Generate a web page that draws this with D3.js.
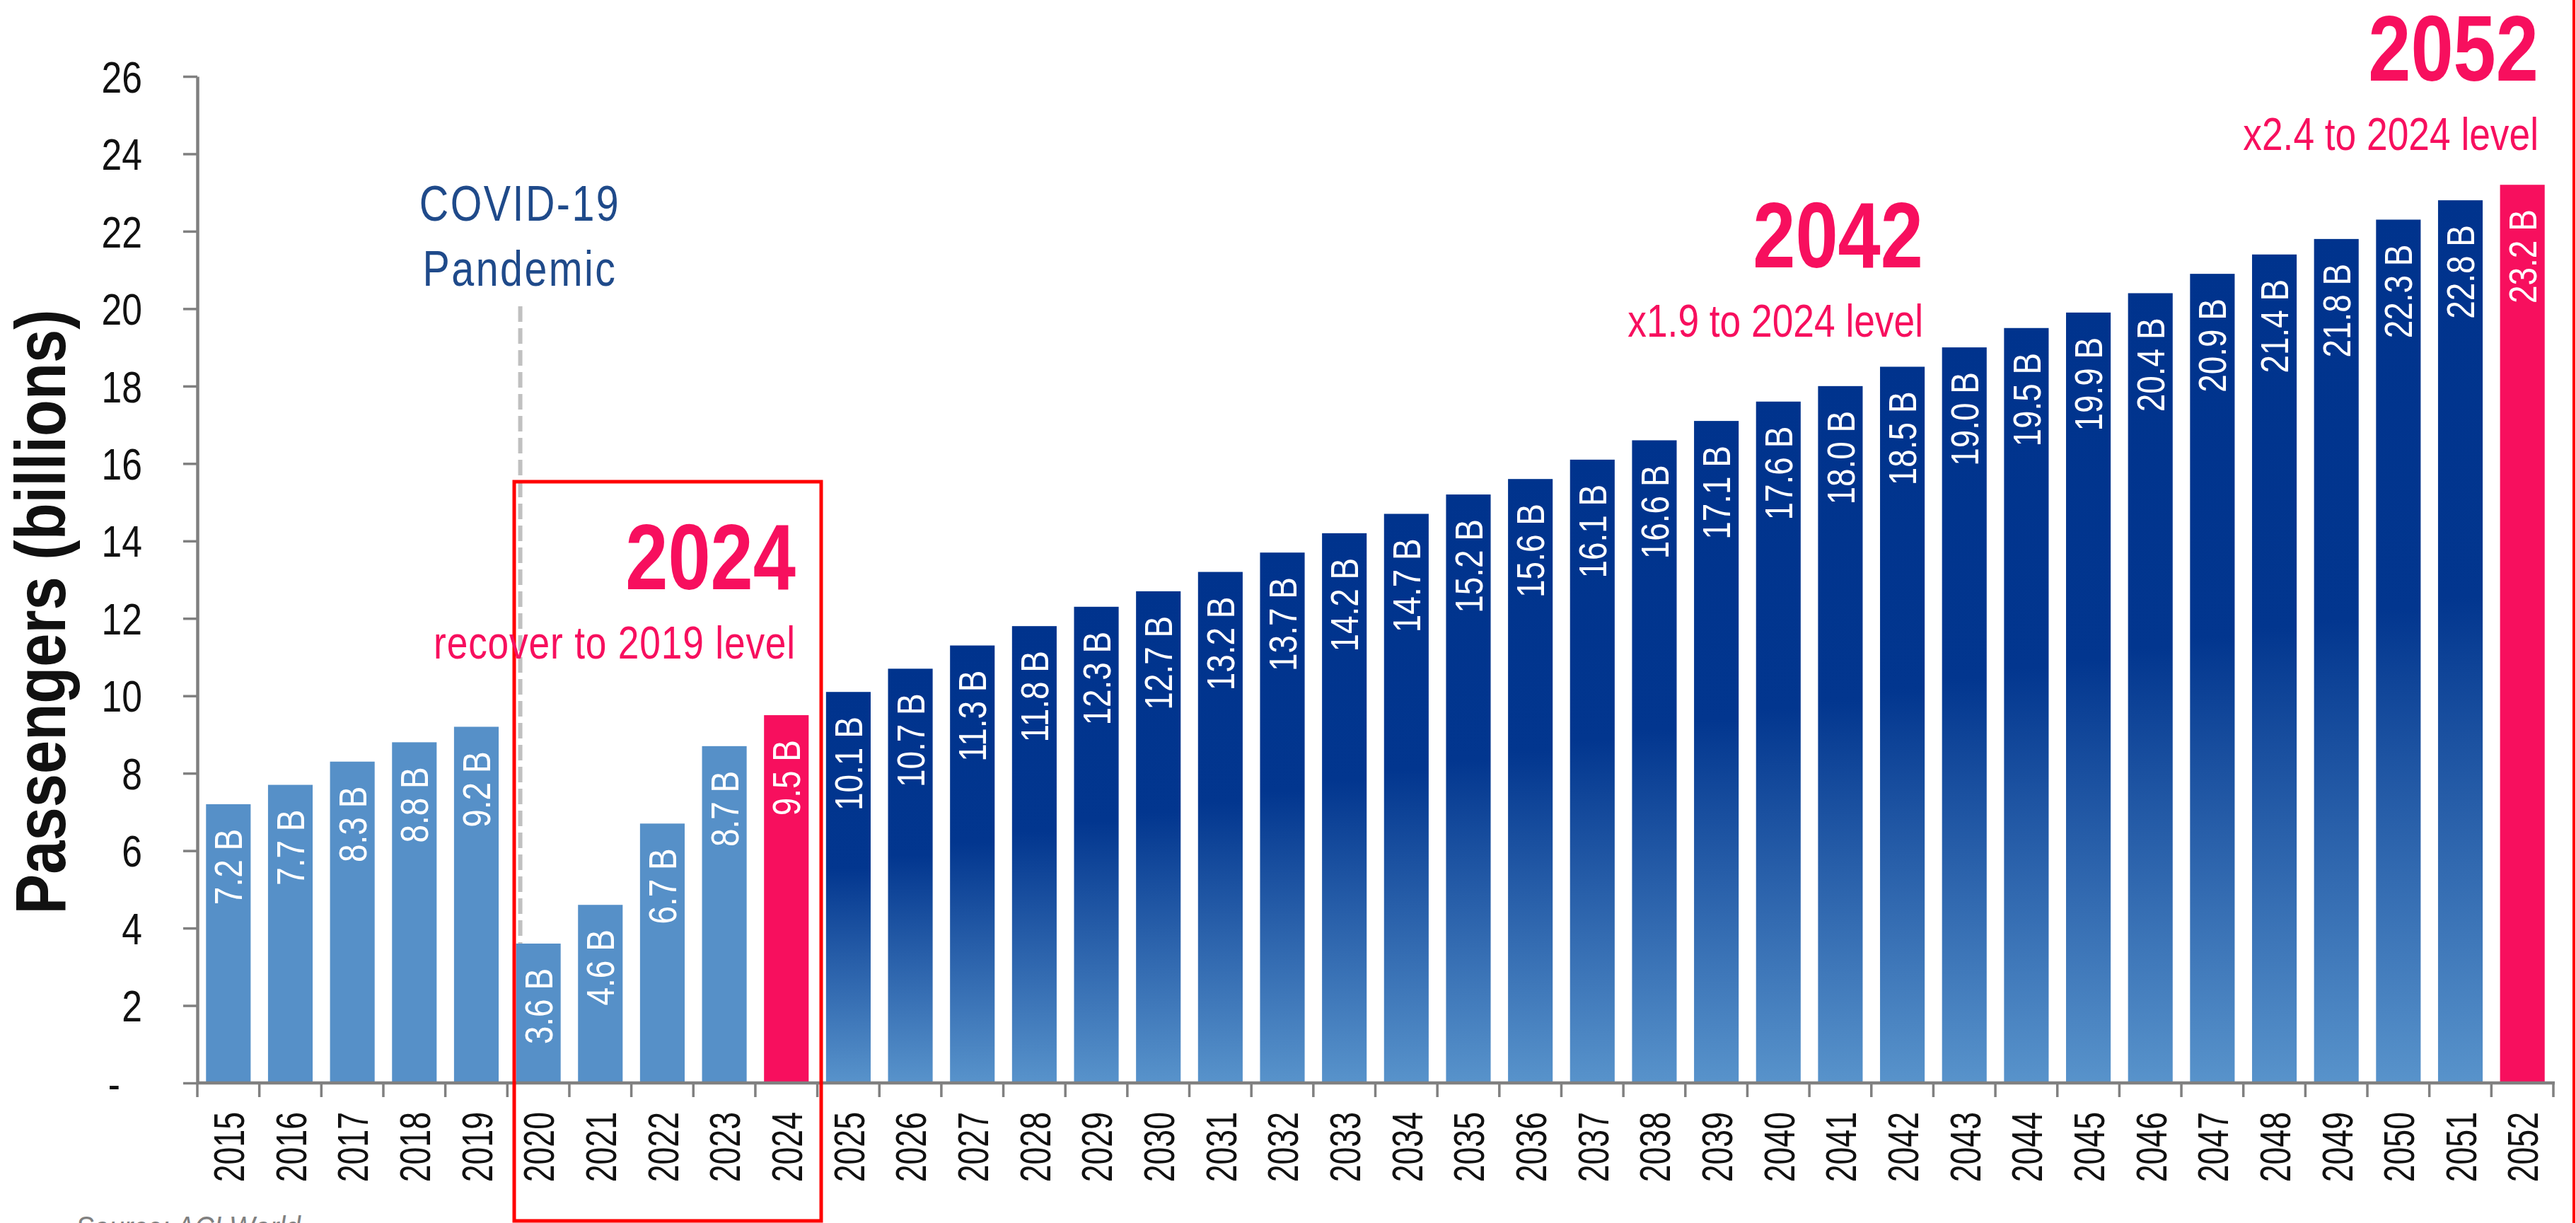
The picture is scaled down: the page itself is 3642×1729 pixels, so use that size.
<!DOCTYPE html>
<html>
<head>
<meta charset="utf-8">
<script src="https://cdn.jsdelivr.net/npm/d3@7"></script>
<style>
  body { margin: 0; background: #fff; }
  text { font-family: "Liberation Sans", Arial, sans-serif; }
</style>
</head>
<body>
<div id="chart"></div>
<script>
const years = ["2015", "2016", "2017", "2018", "2019", "2020", "2021", "2022", "2023", "2024",
  "2025", "2026", "2027", "2028", "2029", "2030", "2031", "2032", "2033", "2034",
  "2035", "2036", "2037", "2038", "2039", "2040", "2041", "2042", "2043", "2044",
  "2045", "2046", "2047", "2048", "2049", "2050", "2051", "2052"];
const passengers = [7.2, 7.7, 8.3, 8.8, 9.2, 3.6, 4.6, 6.7, 8.7, 9.5,
  10.1, 10.7, 11.3, 11.8, 12.3, 12.7, 13.2, 13.7, 14.2, 14.7,
  15.2, 15.6, 16.1, 16.6, 17.1, 17.6, 18.0, 18.5, 19.0, 19.5,
  19.9, 20.4, 20.9, 21.4, 21.8, 22.3, 22.8, 23.2];
const yTicks = [0, 2, 4, 6, 8, 10, 12, 14, 16, 18, 20, 22, 24, 26];
const highlightYears = ["2024", "2052"];
const lastActualYear = "2023";
const annotations = [
  { big: "2024", small: "recover to 2019 level" },
  { big: "2042", small: "x1.9 to 2024 level" },
  { big: "2052", small: "x2.4 to 2024 level" }
];

const PINK = "#f70f5e";
const LIGHT_BLUE = "#5690c8";
const NAVY = "#00338d";
// no narrow font installed, so text is squeezed along its direction
const SQUEEZE = 0.82;

class PassengerChart {
  constructor(mountPoint) {
    this.width = 3642;
    this.height = 1729;
    this.plot = { left: 279, right: 3610, top: 108, bottom: 1531 };

    this.svg = d3.select(`#${mountPoint}`)
      .append("svg")
      .attr("width", this.width)
      .attr("height", this.height)
      .style("background", "#fff");

    this.data = years.map((y, i) => ({ year: y, value: passengers[i] }));

    this.x = d3.scaleBand()
      .domain(years)
      .range([this.plot.left, this.plot.right])
      .paddingInner(0.28)
      .paddingOuter(0.14);

    this.y = d3.scaleLinear()
      .domain([0, 26])
      .range([this.plot.bottom, this.plot.top]);

    this.render();
  }

  barFill(d) {
    if (highlightYears.includes(d.year)) return PINK;
    if (+d.year <= +lastActualYear) return LIGHT_BLUE;
    return "url(#forecast-grad)";
  }

  label(parent, x, y, txt, opts = {}) {
    const rot = opts.rotate ? " rotate(-90)" : "";
    return parent.append("text")
      .attr("transform", `translate(${x},${y})${rot} scale(${opts.sx || SQUEEZE},1)`)
      .attr("text-anchor", opts.anchor || "start")
      .attr("dy", opts.dy || null)
      .attr("fill", opts.fill || "#111")
      .style("font-size", `${opts.size}px`)
      .style("font-weight", opts.bold ? "bold" : null)
      .style("font-style", opts.italic ? "italic" : null)
      .style("letter-spacing", opts.spacing ? `${opts.spacing}px` : null)
      .text(txt);
  }

  render() {
    const grad = this.svg.append("defs")
      .append("linearGradient")
      .attr("id", "forecast-grad")
      .attr("x1", 0).attr("y1", 0).attr("x2", 0).attr("y2", 1);
    grad.append("stop").attr("offset", 0).attr("stop-color", NAVY);
    grad.append("stop").attr("offset", 0.45).attr("stop-color", "#02368f");
    grad.append("stop").attr("offset", 1).attr("stop-color", "#5893cb");

    // covid marker line (behind the bars)
    const covidX = this.x("2020") + 6;
    this.svg.append("line")
      .attr("x1", covidX).attr("x2", covidX)
      .attr("y1", 433).attr("y2", this.plot.bottom)
      .attr("stroke", "#c0c0c0")
      .attr("stroke-width", 6)
      .attr("stroke-dasharray", "22,9");

    // bars
    this.svg.append("g")
      .selectAll("rect")
      .data(this.data)
      .join("rect")
      .attr("x", (d) => this.x(d.year))
      .attr("y", (d) => this.y(d.value))
      .attr("width", this.x.bandwidth())
      .attr("height", (d) => this.y(0) - this.y(d.value))
      .attr("fill", (d) => this.barFill(d));

    // value labels inside bars
    const valueG = this.svg.append("g");
    this.data.forEach((d) => {
      this.label(valueG,
        this.x(d.year) + this.x.bandwidth() / 2,
        this.y(d.value) + 35,
        `${d.value.toFixed(1)} B`,
        { rotate: true, anchor: "end", dy: "0.35em", fill: "#fff", size: 56 });
    });

    // y axis
    const yAxis = this.svg.append("g")
      .attr("transform", `translate(${this.plot.left},0)`)
      .call(d3.axisLeft(this.y)
        .tickValues(yTicks)
        .tickSize(20)
        .tickSizeOuter(0)
        .tickFormat(""));
    yAxis.select(".domain").attr("stroke", "#808080").attr("stroke-width", 4.5);
    yAxis.selectAll(".tick line").attr("stroke", "#808080").attr("stroke-width", 3.5);
    yTicks.forEach((t) => {
      this.label(this.svg, t === 0 ? 170 : 201, this.y(t), t === 0 ? "-" : String(t),
        { anchor: "end", dy: "0.36em", size: 63 });
    });

    // x axis: ticks on band boundaries
    const step = this.x.step();
    const bounds = d3.range(years.length + 1).map((i) => this.plot.left + i * step);
    const xAxis = this.svg.append("g");
    xAxis.append("line")
      .attr("x1", this.plot.left).attr("x2", this.plot.right + 2)
      .attr("y1", this.plot.bottom).attr("y2", this.plot.bottom)
      .attr("stroke", "#808080").attr("stroke-width", 4.5);
    xAxis.selectAll(".xtick")
      .data(bounds)
      .join("line")
      .attr("class", "xtick")
      .attr("x1", (d) => d).attr("x2", (d) => d)
      .attr("y1", this.plot.bottom).attr("y2", this.plot.bottom + 20)
      .attr("stroke", "#808080").attr("stroke-width", 3.5);
    years.forEach((yr) => {
      this.label(xAxis, this.x(yr) + this.x.bandwidth() / 2, this.plot.bottom + 41, yr,
        { rotate: true, anchor: "end", dy: "0.36em", size: 62, sx: 0.72 });
    });

    // y axis title
    this.label(this.svg, 92, 865, "Passengers (billions)",
      { rotate: true, anchor: "middle", size: 100, bold: true, sx: 0.85 });

    // covid annotation
    this.label(this.svg, 735, 312, "COVID-19",
      { anchor: "middle", fill: "#1f4a8a", size: 70, spacing: 3 });
    this.label(this.svg, 735, 404, "Pandemic",
      { anchor: "middle", fill: "#1f4a8a", size: 70, spacing: 3 });

    // highlight boxes
    this.svg.append("rect")
      .attr("x", 727).attr("y", 681)
      .attr("width", 434).attr("height", 1045)
      .attr("fill", "none")
      .attr("stroke", "#ff0000")
      .attr("stroke-width", 5);
    this.svg.append("line")
      .attr("x1", 3639).attr("x2", 3639)
      .attr("y1", 0).attr("y2", this.height)
      .attr("stroke", "#ff0000")
      .attr("stroke-width", 4);

    // pink annotations
    const annoPos = {
      "2024": { x: 1125, y: 833 },
      "2042": { x: 2719, y: 378 },
      "2052": { x: 3589, y: 114 }
    };
    annotations.forEach((a) => {
      const p = annoPos[a.big];
      this.label(this.svg, p.x, p.y, a.big,
        { anchor: "end", fill: PINK, size: 132, bold: true });
      this.label(this.svg, p.x, p.y + 98, a.small,
        { anchor: "end", fill: PINK, size: 65, spacing: a.big === "2024" ? 1 : 0 });
    });

    // source (cut by the bottom edge as in the original)
    this.label(this.svg, 107, 1752, "Source: ACI World",
      { fill: "#808080", size: 47, italic: true });
  }
}

new PassengerChart("chart");
</script>
</body>
</html>
